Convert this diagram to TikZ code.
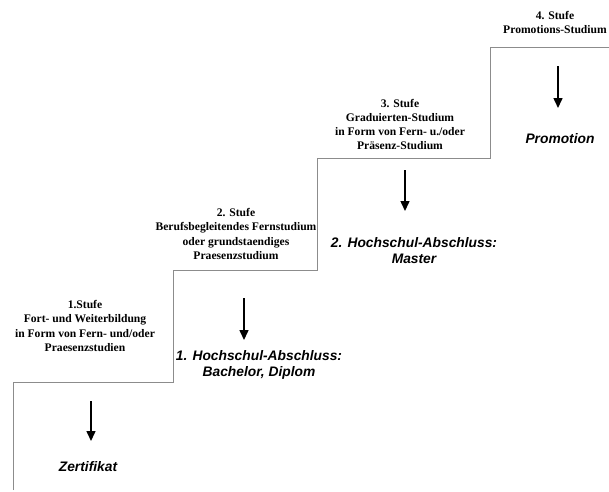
\documentclass[tikz,border=0pt]{standalone}
\usepackage{fontspec}
\setmainfont{Liberation Serif}
\newfontfamily\labfont{Liberation Sans}
\usetikzlibrary{arrows.meta}
\begin{document}
\begin{tikzpicture}[x=1pt,y=-1pt,
  stair/.style={draw=black!45, line width=0.8pt},
  down/.style={draw=black, line width=1.5pt, -{Triangle[length=10pt,width=9pt]}},
  stufe/.style={align=center, font=\fontsize{11.6}{14.2}\selectfont\bfseries, inner sep=0pt},
  result/.style={align=center, font=\labfont\fontsize{13.8}{16}\selectfont\bfseries\itshape, inner sep=0pt}]
\useasboundingbox (0,0) rectangle (609,491);
% staircase
\coordinate (s0) at (13,490);
\coordinate (s1) at (13,382);
\coordinate (s2) at (173,382);
\coordinate (s3) at (173,270);
\coordinate (s4) at (317,270);
\coordinate (s5) at (317,158);
\coordinate (s6) at (490,158);
\coordinate (s7) at (490,47);
\coordinate (s8) at (609,47);
\draw[stair] (s0) -- (s1) -- (s2) -- (s3) -- (s4) -- (s5) -- (s6) -- (s7) -- (s8);
% stage texts
\node[stufe] (t1) at (85,326) {1.Stufe\\Fort- und Weiterbildung\\in Form von Fern- und/oder\\Praesenzstudien};
\node[stufe] (t2) at (236,234) {2. Stufe\\Berufsbegleitendes Fernstudium\\oder grundstaendiges\\Praesenzstudium};
\node[stufe] (t3) at (400,124.5) {3. Stufe\\Graduierten-Studium\\in Form von Fern- u./oder\\Präsenz-Studium};
\node[stufe] (t4) at (555,22.5) {4. Stufe\\Promotions-Studium};
% arrows
\coordinate (a1s) at (91,401); \coordinate (a1e) at (91,441);
\coordinate (a2s) at (244,298); \coordinate (a2e) at (244,340);
\coordinate (a3s) at (405,170); \coordinate (a3e) at (405,211);
\coordinate (a4s) at (558,66);  \coordinate (a4e) at (558,108);
\draw[down] (a1s) -- (a1e);
\draw[down] (a2s) -- (a2e);
\draw[down] (a3s) -- (a3e);
\draw[down] (a4s) -- (a4e);
% results
\node[result] (r1) at (88,467) {Zertifikat};
\node[result] (r2) at (259,365) {1. Hochschul-Abschluss:\\Bachelor, Diplom};
\node[result] (r3) at (414,251) {2. Hochschul-Abschluss:\\Master};
\node[result] (r4) at (560,139) {Promotion};
\end{tikzpicture}
\end{document}
